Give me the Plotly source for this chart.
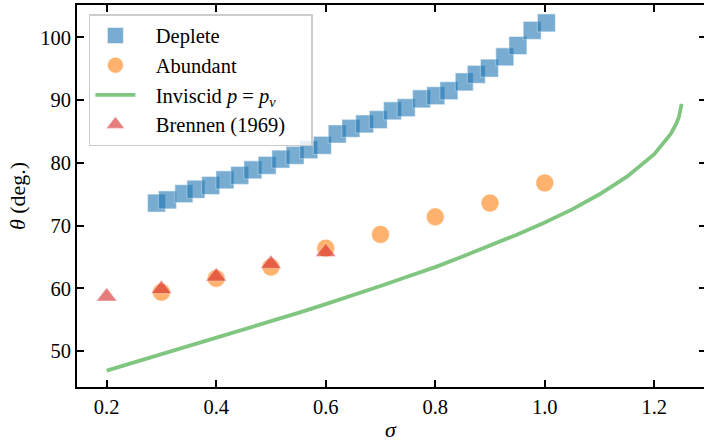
import plotly.graph_objects as go

# ---- data ----
deplete_sigma = [0.291, 0.311, 0.341, 0.363, 0.390, 0.416, 0.443, 0.467, 0.493, 0.518,
                 0.544, 0.569, 0.594, 0.621, 0.646, 0.671, 0.696, 0.722, 0.747, 0.775,
                 0.801, 0.825, 0.853, 0.875, 0.899, 0.927, 0.951, 0.977, 1.003]
deplete_theta = [73.6, 74.1, 75.1, 75.8, 76.4, 77.3, 78.0, 78.9, 79.6, 80.6,
                 81.2, 82.1, 82.8, 84.6, 85.5, 86.2, 86.9, 88.3, 88.8, 90.2,
                 90.7, 91.5, 92.9, 94.1, 95.1, 96.9, 98.7, 101.1, 102.3]

abundant_sigma = [0.3, 0.4, 0.5, 0.6, 0.7, 0.8, 0.9, 1.0]
abundant_theta = [59.4, 61.6, 63.4, 66.4, 68.6, 71.4, 73.6, 76.8]

inviscid_sigma = [0.20, 0.25, 0.30, 0.35, 0.40, 0.45, 0.50, 0.55, 0.60, 0.65, 0.70,
                  0.75, 0.80, 0.85, 0.90, 0.95, 1.00, 1.05, 1.10, 1.15, 1.20, 1.22,
                  1.23, 1.24, 1.245, 1.25]
inviscid_theta = [46.9, 48.2, 49.5, 50.8, 52.1, 53.4, 54.7, 56.1, 57.5, 58.9, 60.4,
                  61.9, 63.4, 65.1, 66.8, 68.6, 70.5, 72.6, 75.0, 77.8, 81.4, 83.4,
                  84.6, 86.2, 87.3, 89.4]

brennen_sigma = [0.2, 0.3, 0.4, 0.5, 0.6]
brennen_theta = [58.7, 59.9, 61.9, 63.9, 65.8]

x_ticks = [0.2, 0.4, 0.6, 0.8, 1.0, 1.2]
y_ticks = [50, 60, 70, 80, 90, 100]

FONT = "Liberation Serif"
NB = "\u00a0\u00a0\u00a0"
TAIL = "\u00a0\u00a0\u00a0\u00a0"

fig = go.Figure()
fig.add_trace(go.Scatter(
    x=deplete_sigma, y=deplete_theta, mode="markers", name=NB + "Deplete",
    marker=dict(symbol="square", size=18, color="#1f77b4", opacity=0.6,
                line=dict(color="rgba(255,255,255,0.45)", width=1.2))))
fig.add_trace(go.Scatter(
    x=abundant_sigma, y=abundant_theta, mode="markers", name=NB + "Abundant",
    marker=dict(symbol="circle", size=18, color="#ff7f0e", opacity=0.6,
                line=dict(color="rgba(255,255,255,0.45)", width=1.2))))
fig.add_trace(go.Scatter(
    x=inviscid_sigma, y=inviscid_theta, mode="lines",
    name=NB + "Inviscid <i>p</i> = <i>p</i><sub><i>v</i></sub>",
    line=dict(color="rgba(44,160,44,0.6)", width=3.8)))
fig.add_trace(go.Scatter(
    x=brennen_sigma, y=brennen_theta, mode="markers", name=NB + "Brennen (1969)" + TAIL,
    marker=dict(symbol="triangle-up", size=18, color="#d62728", opacity=0.6,
                line=dict(color="rgba(255,255,255,0.45)", width=1.2))))
# invisible trace for right-side tick marks
fig.add_trace(go.Scatter(x=[], y=[], yaxis="y2", showlegend=False, hoverinfo="skip"))

x_range = [0.1458, 1.2908]
y_range = [44.3, 105.15]

fig.update_layout(
    width=704, height=442,
    margin=dict(l=77, r=0, t=5, b=55),
    paper_bgcolor="white", plot_bgcolor="white",
    font=dict(family=FONT, size=20.5, color="black"),
    showlegend=True,
    legend=dict(
        x=0.019, y=0.976, xanchor="left", yanchor="top",
        bgcolor="rgba(255,255,255,0.8)", bordercolor="#cccccc", borderwidth=1.5,
        font=dict(family=FONT, size=20.5, color="black"),
        itemwidth=40, tracegroupgap=0,
    ),
    xaxis=dict(
        range=x_range, tickvals=x_ticks, ticktext=[f"{v:.1f}" for v in x_ticks],
        ticks="inside", ticklen=7, tickwidth=1.6, tickcolor="black",
        showline=True, linecolor="black", linewidth=2, mirror="ticks",
        showgrid=False, zeroline=False,
        title=dict(text="<i>σ</i>", font=dict(family=FONT, size=22), standoff=6),
        tickfont=dict(family=FONT, size=20.5),
    ),
    yaxis=dict(
        range=y_range, tickvals=y_ticks,
        ticks="inside", ticklen=7, tickwidth=1.6, tickcolor="black",
        showline=True, linecolor="black", linewidth=2, mirror=False,
        showgrid=False, zeroline=False,
        title=dict(text="<i>θ</i> (deg.)", font=dict(family=FONT, size=22), standoff=8),
        tickfont=dict(family=FONT, size=20.5),
    ),
    yaxis2=dict(
        range=y_range, tickvals=y_ticks, overlaying="y", side="right", anchor="x",
        ticks="inside", ticklen=5, tickwidth=1.6, tickcolor="black",
        showticklabels=False, showline=False, showgrid=False, zeroline=False,
    ),
)

fig.write_html(
    "out.html",
    config={"displayModeBar": False},
    post_script="document.body.style.margin='0';document.body.style.padding='0';"
                "document.documentElement.style.overflow='hidden';",
)
